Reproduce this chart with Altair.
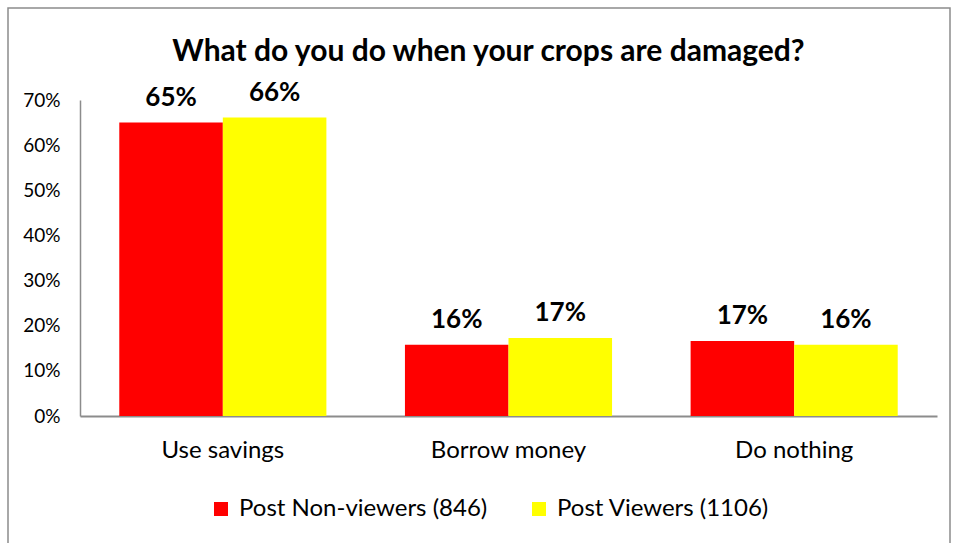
import altair as alt
import pandas as pd

categories = ["Use savings", "Borrow money", "Do nothing"]
series = ["Post Non-viewers (846)", "Post Viewers (1106)"]
non_viewers = [0.650, 0.158, 0.166]
viewers = [0.661, 0.173, 0.158]
colors = ["#FF0000", "#FFFF00"]

rows = []
for i, c in enumerate(categories):
    rows.append({"category": c, "series": series[0], "value": non_viewers[i]})
    rows.append({"category": c, "series": series[1], "value": viewers[i]})
df = pd.DataFrame(rows)

FONT = "Lato"

x = alt.X("category:N", sort=categories, title=None,
          scale=alt.Scale(paddingInner=0.275, paddingOuter=0.1375),
          axis=alt.Axis(labelAngle=0, labelFontSize=24, labelPadding=22, ticks=False,
                        domainColor="#8c8c8c", domainWidth=2, labelColor="#000000",
                        labelFont=FONT))
xo = alt.XOffset("series:N", sort=series)
y = alt.Y("value:Q", title=None,
          scale=alt.Scale(domain=[0, 0.7], nice=False),
          axis=alt.Axis(format=".0%", values=[0, 0.1, 0.2, 0.3, 0.4, 0.5, 0.6, 0.7],
                        ticks=False, grid=False, labelFontSize=19, labelPadding=20,
                        domainColor="#8c8c8c", domainWidth=1.5, labelColor="#000000",
                        labelFont=FONT))

base = alt.Chart(df)

bars = base.mark_bar().encode(
    x=x, xOffset=xo, y=y,
    color=alt.Color("series:N", sort=series,
                    scale=alt.Scale(domain=series, range=colors),
                    legend=alt.Legend(title=None, orient="none", direction="horizontal",
                                      legendX=129, legendY=397, symbolType="square",
                                      symbolSize=196, symbolStrokeWidth=0,
                                      labelFontSize=24, labelFont=FONT, labelColor="#000000",
                                      labelLimit=0, columnPadding=39, labelOffset=6)),
)

labels = base.mark_text(baseline="bottom", dy=-12, fontSize=26, fontWeight="bold",
                        font=FONT, color="#000000").encode(
    x=x, xOffset=xo, y=y,
    text=alt.Text("value:Q", format=".0%"),
)

frame = alt.Chart(pd.DataFrame({"a": [0]})).mark_rect(
    fill=None, stroke="#8c8c8c", strokeWidth=1.5
).encode(x=alt.value(-72), x2=alt.value(870), y=alt.value(-92), y2=alt.value(470))

chart = alt.layer(frame, bars, labels).properties(
    width=857, height=316,
    title=alt.TitleParams("What do you do when your crops are damaged?",
                          fontSize=30, fontWeight="bold", font=FONT, color="#000000",
                          anchor="middle", frame="group", dx=-20, offset=-60),
    autosize=alt.AutoSizeParams(type="none"),
    padding={"left": 80, "top": 100, "right": 18, "bottom": 127},
).configure(background="white").configure_view(strokeWidth=0, stroke="transparent")

chart.save("out.html", embed_options={"renderer": "svg", "actions": False})
